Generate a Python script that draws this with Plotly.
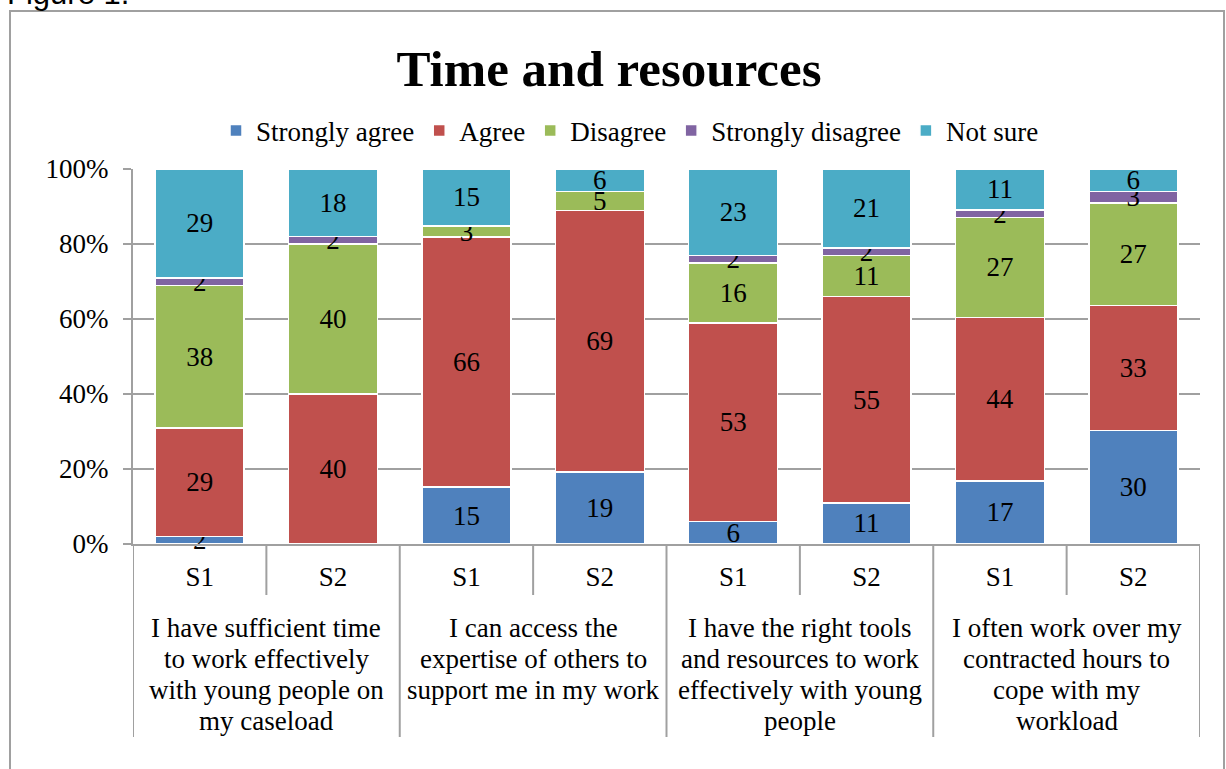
import plotly.graph_objects as go

# ---- data ----
series_names = ["Strongly agree", "Agree", "Disagree", "Strongly disagree", "Not sure"]
series_colors = ["#4F81BD", "#C0504D", "#9BBB59", "#8064A2", "#4BACC6"]
survey_labels = ["S1", "S2", "S1", "S2", "S1", "S2", "S1", "S2"]
group_labels = [
    ["I have sufficient time", "to work effectively", "with young people on", "my caseload"],
    ["I can access the", "expertise of others to", "support me in my work"],
    ["I have the right tools", "and resources to work", "effectively with young", "people"],
    ["I often work over my", "contracted hours to", "cope with my", "workload"],
]
strongly_agree = [2, 0, 15, 19, 6, 11, 17, 30]
agree = [29, 40, 66, 69, 53, 55, 44, 33]
disagree = [38, 40, 3, 5, 16, 11, 27, 27]
strongly_disagree = [2, 2, 0, 0, 2, 2, 2, 3]
not_sure = [29, 18, 15, 6, 23, 21, 11, 6]
y_ticks = [0, 20, 40, 60, 80, 100]
y_tick_labels = ["0%", "20%", "40%", "60%", "80%", "100%"]

series_values = [strongly_agree, agree, disagree, strongly_disagree, not_sure]

# ---- layout constants ----
W, H = 1226, 769
L, R, T, B = 133, 26, 169, 225
PW, PH = W - L - R, H - T - B
SERIF = "Liberation Serif"
GRAY = "#A0A0A0"


def px_y(py):
    return (H - B - py) / PH


def px_x(px):
    return (px - L) / PW


xs = list(range(len(survey_labels)))

fig = go.Figure()
for idx, (name, color, vals) in enumerate(zip(series_names, series_colors, series_values)):
    fig.add_trace(go.Bar(
        x=xs, y=vals, name=name,
        marker=dict(color=color, line=dict(color="white", width=1.5)),
        text=[str(v) if v else "" for v in vals],
        textposition="inside", insidetextanchor="middle", textangle=0,
        textfont=dict(family=SERIF, size=27, color="black"),
        cliponaxis=(idx != 0),
        hoverinfo="skip",
    ))

shapes = []
# outer frame
shapes.append(dict(type="rect", xref="paper", yref="paper",
                   x0=px_x(10), x1=px_x(1224), y0=px_y(11), y1=px_y(800),
                   line=dict(color=GRAY, width=2), fillcolor="rgba(0,0,0,0)", layer="below"))
# category dividers
n = len(survey_labels)
for i in range(n + 1):
    xv = i - 0.5
    long_line = (i % 2 == 0)
    shapes.append(dict(type="line", xref="x", yref="paper", x0=xv, x1=xv,
                       y0=0, y1=px_y(737 if long_line else 595),
                       line=dict(color=GRAY, width=2)))

annotations = []
# Figure label (partially cut at the top)
annotations.append(dict(text="Figure 1.", xref="paper", yref="paper",
                        x=px_x(5), y=px_y(13), xanchor="left", yanchor="bottom",
                        showarrow=False, font=dict(family="Liberation Sans", size=31, color="black")))
# group labels
line_y = [628, 659, 690, 721]
for g, lines in enumerate(group_labels):
    for k, line in enumerate(lines):
        annotations.append(dict(text=line, xref="x", yref="paper",
                                x=2 * g + 0.5, y=px_y(line_y[k]),
                                xanchor="center", yanchor="middle", showarrow=False,
                                font=dict(family=SERIF, size=27, color="black")))

fig.update_layout(
    width=W, height=H,
    margin=dict(l=L, r=R, t=T, b=B, autoexpand=False),
    paper_bgcolor="white", plot_bgcolor="white",
    barmode="stack", barnorm="percent", bargap=0.333,
    title=dict(text="<b>Time and resources</b>", x=609 / W, xref="container", xanchor="center",
               y=1 - 68 / H, yref="container", yanchor="middle",
               font=dict(family=SERIF, size=51, color="black")),
    legend=dict(orientation="h", x=px_x(630), xanchor="center", y=px_y(131), yanchor="middle",
                font=dict(family=SERIF, size=27, color="black"), traceorder="normal",
                itemclick=False),
    uniformtext=dict(minsize=27, mode="show"),
    xaxis=dict(range=[-0.5, n - 0.5], tickvals=xs, ticktext=survey_labels,
               showgrid=False, zeroline=False, showline=True, linecolor=GRAY, linewidth=2,
               ticks="", ticklabelstandoff=8,
               tickfont=dict(family=SERIF, size=27, color="black")),
    yaxis=dict(range=[0, 100.001], tickvals=y_ticks, ticktext=y_tick_labels,
               showgrid=True, gridcolor=GRAY, gridwidth=2, zeroline=False,
               showline=True, linecolor=GRAY, linewidth=2,
               ticks="outside", ticklen=8, tickcolor=GRAY, tickwidth=2,
               ticklabelstandoff=9,
               tickfont=dict(family=SERIF, size=27, color="black")),
    shapes=shapes, annotations=annotations,
    hovermode=False,
)

fig.write_html("out.html", config={"displayModeBar": False},
               post_script="document.body.style.margin='0';")
